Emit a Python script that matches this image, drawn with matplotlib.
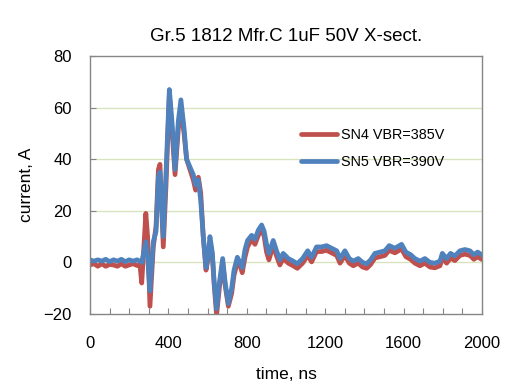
import numpy as np
import matplotlib
matplotlib.use("Agg")
import matplotlib.pyplot as plt

plt.rcParams['font.family'] = ['Liberation Sans', 'DejaVu Sans']

# time points (ns)
time_ns = [0, 20, 40, 60, 80, 100, 120, 140, 160, 180, 200, 220, 240, 255,
           264, 285, 294, 306, 323, 337, 349, 357, 374, 388, 405, 418, 434,
           451, 464, 480, 493, 510, 527, 539, 553, 565, 578, 592, 604, 612,
           624, 634, 646, 660, 677, 690, 706, 723, 735, 752, 765, 777, 791,
           804, 825, 842, 859, 876, 889, 901, 913, 935, 952, 969, 986, 1012,
           1037, 1058, 1085, 1111, 1131, 1156, 1182, 1207, 1233, 1259, 1276,
           1301, 1323, 1344, 1369, 1391, 1412, 1432, 1454, 1480, 1505, 1527,
           1556, 1590, 1612, 1636, 1658, 1684, 1709, 1735, 1760, 1786, 1798,
           1820, 1840, 1862, 1888, 1913, 1939, 1959, 1978, 1998]

# SN5 VBR=390V (blue)
sn5 = [1, 0.5, 1, 0.5, 1.2, 0.3, 1, 0.5, 1.2, 0.3, 1, 0.5, 1, 0.5,
       0, 8, 2, -11, 8, 12, 33, 35, 10, 35, 67, 55, 36,
       55, 63, 52, 40, 37, 34, 30, 32, 24, 10, -2, 3, 10,
       4, -8, -18, -8, 1.5, -8, -16, -10, -3, 2, 0, -2, 5,
       8.5, 10.5, 9, 12.5, 14.5, 12, 7, 3.5, 8.5, 4.5, 1, 3.5, 1.5,
       0.5, -0.5, 1.5, 4.5, 2, 6, 6, 6.5, 5.5, 4.5, 1.5,
       4.5, 1.5, 0.5, 1.5, 0, -0.5, 1, 3.5, 4, 4.5, 6.5,
       5.5, 7, 4, 3, 1.5, 0.5, 1.5, 0, -0.3, 0.5, 3.5,
       1.5, 3.5, 2.5, 4.5, 5, 4.5, 3, 4, 3]

# SN4 VBR=385V (red)
sn4 = [-1, -0.5, -1.5, -0.5, -1.5, -0.8, -1, -1.5, -0.5, -1.5, -1, -0.5, -1.2, -1,
       -8, 19, 10, -17, 6, 14, 36, 38, 6, 30, 65, 52, 34,
       52, 60, 50, 40, 36, 32, 28, 33, 27, 10, -3, 2, 8,
       3, -9, -20.5, -10, 0, -9, -17, -12, -5, 0, -1, -4, 2,
       6, 9, 7, 10.5, 13, 10, 4, 1, 6.5, 2.5, -1, 1.5, -0.3,
       -1.3, -2.3, -0.3, 2.7, 0.2, 4.2, 4.2, 4.7, 3.7, 2.7, -0.3,
       2.7, -0.3, -1.3, -0.3, -1.8, -2.3, -0.8, 1.7, 2.2, 2.7, 4.7,
       3.7, 5.2, 2.2, 1.2, -0.3, -1.3, -0.3, -1.8, -2.1, -1.3, 1.7,
       -0.3, 1.7, 0.7, 2.7, 3.2, 2.7, 1.2, 2.2, 1.2]

fig = plt.figure(figsize=(5.07, 3.86), dpi=100)
ax = fig.add_axes([0.1775, 0.1865, 0.773, 0.6685])

ax.plot(time_ns, sn4, color='#C0504D', lw=3.4, solid_capstyle='round',
        solid_joinstyle='round', label='SN4 VBR=385V')
ax.plot(time_ns, sn5, color='#4F81BD', lw=3.4, solid_capstyle='round',
        solid_joinstyle='round', label='SN5 VBR=390V')

ax.set_xlim(0, 2000)
ax.set_ylim(-20, 80)
ax.set_xticks(np.arange(0, 2001, 100))
ax.set_xticklabels([str(t) if t % 400 == 0 else '' for t in range(0, 2001, 100)])
ax.set_yticks(np.arange(-20, 81, 20))

for y in [0, 20, 40, 60]:
    ax.axhline(y, color='#D7E4BD', lw=1, zorder=0)

for s in ax.spines.values():
    s.set_color('#868686')
    s.set_linewidth(1)
ax.tick_params(direction='in', length=4, color='#868686', labelsize=12)
ax.tick_params(axis='x', pad=16)
ax.tick_params(axis='y', pad=13)

ax.set_title('Gr.5 1812 Mfr.C 1uF 50V X-sect.', fontsize=13.5, pad=11)
ax.set_xlabel('time, ns', fontsize=12.5, labelpad=11)
ax.set_ylabel('current, A', fontsize=12.5, labelpad=7)

ax.legend(loc='upper left', bbox_to_anchor=(0.505, 0.77), frameon=False,
          fontsize=10.4, handlelength=2.5, handletextpad=0.3, labelspacing=0.85)

fig.savefig('out.png', dpi=100)
